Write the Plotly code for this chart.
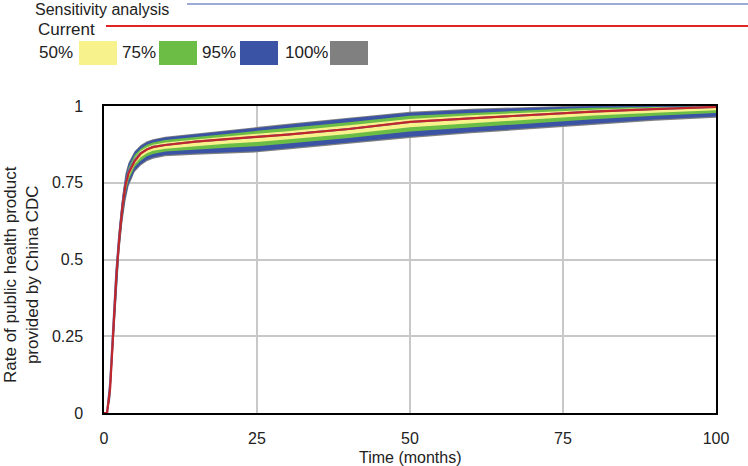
import plotly.graph_objects as go

# ---- data ----
months = [0, 0.5, 1, 1.5, 2, 2.5, 3, 3.5, 4, 5, 6, 7, 8, 10, 15, 20, 25, 30, 40, 50, 60, 70, 75, 80, 90, 100]
current = [0, 0, 0.08, 0.27, 0.44, 0.57, 0.67, 0.74, 0.78, 0.82, 0.845, 0.858, 0.866, 0.873, 0.884, 0.892, 0.899, 0.907, 0.925, 0.948, 0.960, 0.972, 0.977, 0.982, 0.990, 0.997]
sensitivity = [0, 0, 0.10, 0.29, 0.46, 0.585, 0.68, 0.75, 0.787, 0.825, 0.847, 0.859, 0.867, 0.873, 0.884, 0.892, 0.899, 0.907, 0.925, 0.948, 0.960, 0.972, 0.977, 0.982, 0.990, 0.997]

hi100 = [0, 0, 0.11, 0.32, 0.49, 0.61, 0.71, 0.78, 0.815, 0.853, 0.873, 0.885, 0.892, 0.900, 0.911, 0.921, 0.932, 0.942, 0.962, 0.981, 0.991, 0.998, 1.0, 1.0, 1.0, 1.0]
hi95 = [0, 0, 0.10, 0.31, 0.48, 0.60, 0.70, 0.77, 0.81, 0.85, 0.87, 0.882, 0.889, 0.897, 0.908, 0.918, 0.929, 0.939, 0.959, 0.978, 0.988, 0.995, 0.998, 1.0, 1.0, 1.0]
hi75 = [0, 0, 0.093, 0.296, 0.466, 0.590, 0.690, 0.760, 0.800, 0.840, 0.861, 0.874, 0.881, 0.889, 0.900, 0.909, 0.919, 0.928, 0.947, 0.968, 0.978, 0.987, 0.991, 0.994, 0.997, 0.999]
hi50 = [0, 0, 0.087, 0.284, 0.454, 0.581, 0.681, 0.751, 0.791, 0.831, 0.854, 0.866, 0.874, 0.881, 0.892, 0.901, 0.910, 0.918, 0.937, 0.958, 0.970, 0.980, 0.984, 0.988, 0.994, 0.998]
lo50 = [0, 0, 0.070, 0.253, 0.426, 0.556, 0.656, 0.726, 0.768, 0.810, 0.833, 0.846, 0.854, 0.861, 0.870, 0.877, 0.883, 0.891, 0.909, 0.931, 0.944, 0.957, 0.963, 0.969, 0.978, 0.986]
lo75 = [0, 0, 0.061, 0.238, 0.414, 0.544, 0.644, 0.714, 0.757, 0.801, 0.822, 0.836, 0.844, 0.852, 0.859, 0.864, 0.869, 0.878, 0.896, 0.917, 0.931, 0.944, 0.951, 0.957, 0.968, 0.977]
lo95 = [0, 0, 0.05, 0.22, 0.40, 0.53, 0.63, 0.70, 0.745, 0.79, 0.81, 0.824, 0.832, 0.840, 0.845, 0.849, 0.853, 0.862, 0.880, 0.900, 0.915, 0.929, 0.937, 0.944, 0.956, 0.966]
lo100 = [0, 0, 0.04, 0.21, 0.39, 0.52, 0.62, 0.69, 0.738, 0.785, 0.806, 0.820, 0.828, 0.836, 0.841, 0.845, 0.849, 0.858, 0.876, 0.896, 0.911, 0.925, 0.933, 0.940, 0.952, 0.962]

x_ticks = [0, 25, 50, 75, 100]
y_ticks = [0, 0.25, 0.5, 0.75, 1]
y_tick_text = ["0", "0.25", "0.5", "0.75", "1"]

band_labels = ["50%", "75%", "95%", "100%"]
band_colors = ["#f7f28c", "#6cbd45", "#3a53a4", "#808080"]

# ---- layout geometry (pixels) ----
W, H = 748, 466
L, R, T, B = 104, 716, 106, 413
PW, PH = R - L, B - T


def px(xp):
    return (xp - L) / PW


def py(yp):
    return (B - yp) / PH


FONT = "Liberation Sans, Arial, sans-serif"

fig = go.Figure()

bands = [(lo100, hi100, band_colors[3]), (lo95, hi95, band_colors[2]),
         (lo75, hi75, band_colors[1]), (lo50, hi50, band_colors[0])]
for lo, hi, col in bands:
    fig.add_trace(go.Scatter(x=months, y=lo, mode="lines", line=dict(width=0, color=col),
                             showlegend=False, hoverinfo="skip"))
    fig.add_trace(go.Scatter(x=months, y=hi, mode="lines", line=dict(width=0, color=col),
                             fill="tonexty", fillcolor=col, showlegend=False, hoverinfo="skip"))

fig.add_trace(go.Scatter(x=months, y=sensitivity, mode="lines",
                         line=dict(color="#5a6fb5", width=2), showlegend=False))
fig.add_trace(go.Scatter(x=months, y=current, mode="lines",
                         line=dict(color="#c0272d", width=2.2), showlegend=False))

fig.update_xaxes(range=[0, 100], tickvals=x_ticks, ticktext=[str(v) for v in x_ticks],
                 showgrid=True, gridcolor="#c8c8c8", gridwidth=1.5, zeroline=False,
                 showline=True, linecolor="black", linewidth=1.5, mirror=True,
                 ticks="", ticklabelstandoff=10,
                 tickfont=dict(family=FONT, size=16, color="#222"))
fig.update_yaxes(range=[0, 1], tickvals=y_ticks, ticktext=y_tick_text,
                 showgrid=True, gridcolor="#c8c8c8", gridwidth=1.5, zeroline=False,
                 showline=True, linecolor="black", linewidth=1.5, mirror=True,
                 ticks="", ticklabelstandoff=16,
                 tickfont=dict(family=FONT, size=16, color="#222"))

annotations = []
shapes = []

# axis titles
annotations.append(dict(text="Time (months)", x=px(410), y=py(457), xref="paper", yref="paper",
                        showarrow=False, xanchor="center", yanchor="middle",
                        font=dict(family=FONT, size=16, color="#222")))
annotations.append(dict(text="Rate of public health product<br>provided by China CDC",
                        x=px(21), y=py(275), xref="paper", yref="paper", textangle=-90,
                        showarrow=False, xanchor="center", yanchor="middle",
                        font=dict(family=FONT, size=17, color="#222")))

# custom legend
annotations.append(dict(text="Sensitivity analysis", x=px(33), y=py(9), xref="paper", yref="paper",
                        showarrow=False, xanchor="left", yanchor="middle",
                        font=dict(family=FONT, size=16, color="#222")))
shapes.append(dict(type="line", xref="paper", yref="paper", x0=px(187), x1=px(750),
                   y0=py(4), y1=py(4), line=dict(color="#7b8fc4", width=1.5)))
annotations.append(dict(text="Current", x=px(36), y=py(30), xref="paper", yref="paper",
                        showarrow=False, xanchor="left", yanchor="middle",
                        font=dict(family=FONT, size=17, color="#222")))
shapes.append(dict(type="line", xref="paper", yref="paper", x0=px(106), x1=px(750),
                   y0=py(26), y1=py(26), line=dict(color="#e02424", width=2.2)))

label_x = [37, 120, 200, 283]
box_x = [79, 159, 240, 330]
for lab, col, lx, bx in zip(band_labels, band_colors, label_x, box_x):
    annotations.append(dict(text=lab, x=px(lx), y=py(53), xref="paper", yref="paper",
                            showarrow=False, xanchor="left", yanchor="middle",
                            font=dict(family=FONT, size=17, color="#222")))
    shapes.append(dict(type="rect", xref="paper", yref="paper", x0=px(bx), x1=px(bx + 38),
                       y0=py(65), y1=py(41), fillcolor=col, line=dict(width=0)))

fig.update_layout(width=W, height=H, margin=dict(l=L, r=W - R, t=T, b=H - B),
                  plot_bgcolor="white", paper_bgcolor="white",
                  annotations=annotations, shapes=shapes, showlegend=False)

fig.write_html("out.html", config={"displayModeBar": False},
               post_script="document.body.style.margin='0';document.body.style.overflow='hidden';")
